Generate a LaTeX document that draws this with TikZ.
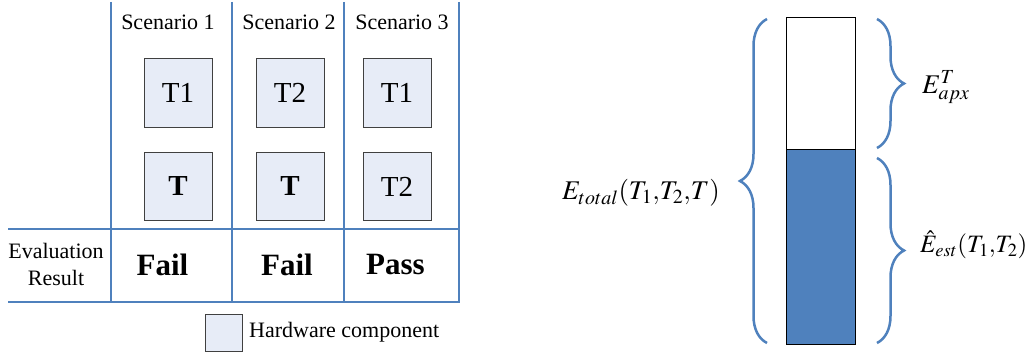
\documentclass[tikz,border=0pt]{standalone}
\usepackage{mathptmx}
\usepackage[no-math]{fontspec}
\setmainfont{Liberation Serif}
\usetikzlibrary{decorations.pathreplacing}
\definecolor{gridblue}{RGB}{79,129,189}
\definecolor{boxfill}{RGB}{231,236,247}
\definecolor{boxline}{RGB}{64,64,64}
\begin{document}
\begin{tikzpicture}[x=1pt, y=-1pt,
    grid/.style={gridblue, line width=2pt},
    hwbox/.style={draw=boxline, fill=boxfill, line width=1pt, minimum size=68pt, inner sep=0pt, font=\fontsize{29}{34}\selectfont},
    lbl/.style={font=\fontsize{22}{27}\selectfont},
    res/.style={font=\bfseries\fontsize{31}{36}\selectfont},
    eq/.style={font=\fontsize{27}{32}\selectfont, inner sep=0pt},
    curly/.style={gridblue, line width=2.5pt, decorate, decoration={brace, amplitude=27pt}}]
    \useasboundingbox (0,0) rectangle (1026,353);

    % Grille du tableau
    \foreach \x in {111, 232, 344, 459} {
        \draw[grid] (\x,2) -- (\x,302);
    }
    \draw[grid] (8,229) -- (460,229);
    \draw[grid] (8,302) -- (460,302);

    % En-tetes des scenarios
    \node[lbl] (sc1) at (168,22) {Scenario 1};
    \node[lbl] (sc2) at (289,22) {Scenario 2};
    \node[lbl] (sc3) at (402,22) {Scenario 3};

    % Composants materiels
    \node[hwbox] (s1top) at (178,93) {T1};
    \node[hwbox] (s1bot) at (178,186.5) {\textbf{T}};
    \node[hwbox] (s2top) at (290,93) {T2};
    \node[hwbox] (s2bot) at (290,186.5) {\textbf{T}};
    \node[hwbox] (s3top) at (397,93) {T1};
    \node[hwbox] (s3bot) at (397,186.5) {T2};

    % Resultats
    \node[lbl, align=center] (evalres) at (56,264.5) {Evaluation\\Result};
    \node[res] (res1) at (162.5,265) {Fail};
    \node[res] (res2) at (287,265) {Fail};
    \node[res] (res3) at (395.5,265) {Pass};

    % Legende
    \node[hwbox, minimum size=37pt] (legbox) at (223.5,332.5) {};
    \node[lbl, anchor=west, inner sep=0pt] (legtxt) at (249,332) {Hardware component};

    % Barre d'energie
    \draw[black, line width=1pt] (786.7,18) rectangle (855.7,149);
    \draw[black, fill=gridblue, line width=1pt] (786.7,149) rectangle (855.7,344);

    % Accolades
    \draw[curly] (767,343) -- (767,19);
    \draw[curly] (877,19) -- (877,148);
    \draw[curly] (877,158) -- (877,343);

    % Etiquettes
    \node[eq, anchor=east] (etotal) at (720,193) {$E_{total}(T_1{,}T_2{,}T)$};
    \node[eq, anchor=west] (eapx) at (922,87) {$E^{T}_{apx}$};
    \node[eq, anchor=west, font=\fontsize{25}{30}\selectfont] (eest) at (920,245) {$\hat{E}_{est}(T_1{,}T_2)$};
\end{tikzpicture}
\end{document}
